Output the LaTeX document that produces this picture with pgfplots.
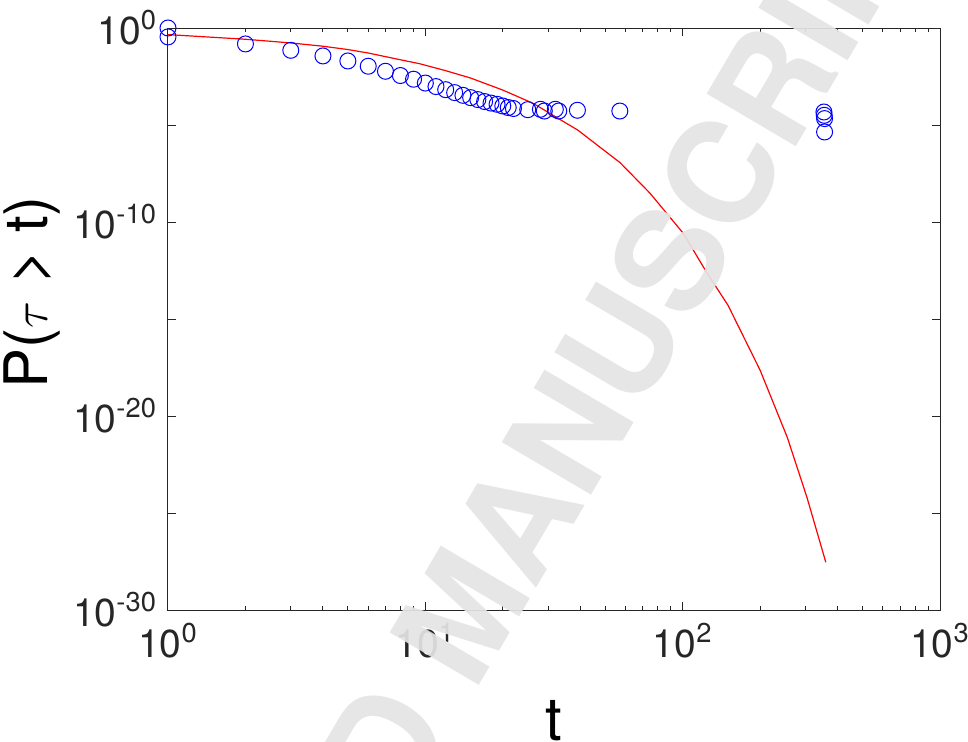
\documentclass[border=0pt]{standalone}
\usepackage{fontspec}
\setmainfont{TeX Gyre Heros}
\usepackage{pgfplots}
\pgfplotsset{compat=1.18}
\definecolor{axgray}{RGB}{38,38,38}
\definecolor{wm}{RGB}{228,228,228}
\begin{document}
\begin{tikzpicture}
\begin{axis}[name=ax, scale only axis, width=386pt, height=291pt,
  xmode=log, ymode=log, xmin=1, xmax=1000, ymin=1e-30, ymax=1,
  xtick={1,10,100,1000},
  xticklabels={10\textsuperscript{0},10\textsuperscript{1},10\textsuperscript{2},10\textsuperscript{3}},
  ytick={1e-30,1e-25,1e-20,1e-15,1e-10,1e-5,1},
  yticklabels={10\textsuperscript{-30},,10\textsuperscript{-20},,10\textsuperscript{-10},,10\textsuperscript{0}},
  yminorticks=false, xminorticks=true,
  tick align=inside, major tick length=4pt, minor tick length=2.2pt,
  axis line style={axgray, line width=0.5pt},
  every tick/.style={axgray, line width=0.5pt},
  ticklabel style={font=\fontsize{19.5}{22}\selectfont, text=axgray},
  xticklabel style={yshift=-3pt},
  yticklabel style={xshift=-2pt},
  xlabel={t}, ylabel={P($\tau$ > t)},
  label style={font=\fontsize{30}{34}\selectfont, text=black},
  xlabel style={at={(axis description cs:0.5,-0.2247)}, anchor=base},
  ylabel style={at={(axis description cs:-0.176,0.546)}, anchor=center},
  clip=false]
\addplot[only marks, mark=o, mark size=4pt, draw=blue, mark options={line width=0.5pt}] coordinates {
(1,1) (1,0.347) (2,0.151) (3,0.0708) (4,0.0363) (5,0.0200) (6,0.0107) (7,5.89e-3)
(8,3.55e-3) (9,2.29e-3) (10,1.45e-3) (11,9.55e-4) (12,6.61e-4) (13,4.68e-4) (14,3.39e-4)
(15,2.57e-4) (16,2.04e-4) (17,1.62e-4) (18,1.35e-4) (19,1.17e-4) (20,9.55e-5) (21,7.94e-5)
(22,7.08e-5) (25,6.17e-5) (28,6.46e-5) (29,5.25e-5) (32,6.46e-5) (33,5.25e-5) (39,5.75e-5)
(57,5.25e-5) (354,4.68e-5) (355,3.16e-5) (356,2.14e-5) (356,4.37e-6)
};
\addplot[red, line width=0.6pt] coordinates {
(1,0.457) (2,0.263) (3,0.170) (4,0.115) (5,0.0776) (6,0.0513) (7.08,0.0324) (7.96,0.0234)
(9.5,0.01445) (12,6.31e-3) (15,2.63e-3) (20,6.31e-4) (26.2,1.32e-4) (39.2,5.37e-6)
(57.1,1.15e-7) (74.6,3.09e-9) (100.5,2.63e-11) (124.5,2.29e-13) (150,5.13e-15)
(200,2.29e-18) (255,7.94e-22) (304,6.46e-25) (360,2.88e-28)
};
\end{axis}
\node[anchor=base, rotate=59.5, text=wm, text opacity=0.92, font=\fontsize{71}{80}\selectfont\bfseries, inner sep=0pt]
  at ([shift={(170pt,-13.5pt)}]ax.south west) {ACCEPTED MANUSCRIPT};
\pgfresetboundingbox
\path[use as bounding box] ([shift={(-84pt,-66pt)}]ax.south west) rectangle ([shift={(14pt,14pt)}]ax.north east);
\end{tikzpicture}
\end{document}
